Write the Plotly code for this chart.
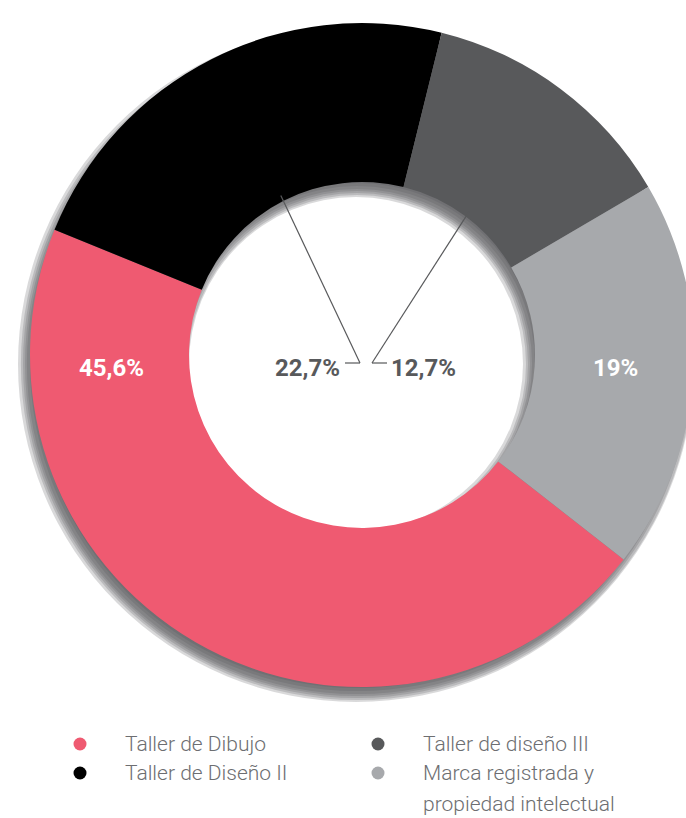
import math
import plotly.graph_objects as go

# ---- data ----
categories = ["Taller de Dibujo", "Taller de Diseño II", "Taller de diseño III",
              "Marca registrada y<br>propiedad intelectual"]
values = [45.6, 22.7, 12.7, 19.0]
value_labels = ["45,6%", "22,7%", "12,7%", "19%"]
colors = ["#EF5A71", "#000000", "#58595B", "#A7A9AC"]

# ---- geometry (pixels) ----
# the figure is a little wider than the window so the donut is cropped at the right
W, H = 694, 818
CX, CY = 362, 355
R = 332
R_IN = 173
ROT = 128


def px(x):
    return x / W


def py(y):
    return 1 - y / H


fig = go.Figure()

# soft drop shadow under the ring (stack of translucent rings = blur)
SDX, SDY = -5, 9
shadow_layers = [-8, -5, -2, 0, 2, 4, 6]
for i, dr in enumerate(shadow_layers):
    r = R + dr
    rin = R_IN - dr
    x0 = px(CX + SDX - r)
    x1 = px(CX + SDX + r)
    if x1 > 1:
        x0, x1 = 1 - 2 * r / W, 1
    fig.add_trace(go.Pie(
        values=[sum(values)], labels=[f"shadow{i}"], hole=rin / r,
        marker=dict(colors=["rgba(80,80,85,0.22)"], line=dict(width=0)),
        textinfo="none", hoverinfo="skip", showlegend=False, sort=False,
        domain=dict(x=[x0, x1], y=[py(CY + SDY + r), py(CY + SDY - r)])))

# main donut
fig.add_trace(go.Pie(
    labels=categories, values=values, hole=R_IN / R, sort=False,
    direction="clockwise", rotation=ROT,
    marker=dict(colors=colors, line=dict(width=0)),
    textinfo="none", hoverinfo="label+percent", showlegend=False,
    domain=dict(x=[px(CX - R), px(CX + R)], y=[py(CY + R), py(CY - R)])))

annotations = []
shapes = []
bold = dict(family="Roboto, Noto Sans, sans-serif", size=24, weight="bold")
R_MID = (R + R_IN) / 2
TY = CY + 13

# labels inside the ring (pink at 9 o'clock, light grey at 3 o'clock)
annotations.append(dict(x=px(CX - R_MID + 2), y=py(TY), xref="paper", yref="paper",
                        xanchor="center", text=value_labels[0], showarrow=False,
                        font=dict(color="white", **bold)))
annotations.append(dict(x=px(CX + R_MID + 1), y=py(TY), xref="paper", yref="paper",
                        xanchor="center", text=value_labels[3], showarrow=False,
                        font=dict(color="white", **bold)))

# leader lines for the two small labels in the hole
total = sum(values)
cum = 0
mids = []
for v in values:
    mids.append(ROT + (cum + v / 2) / total * 360)
    cum += v

LY = CY + 8
for idx, jx, hx, tx, anchor in [(1, CX - 2, CX - 17, CX - 20, "right"),
                                (2, CX + 10, CX + 25, CX + 27, "left")]:
    a = math.radians(mids[idx])
    sx = CX + (R_IN + 6) * math.sin(a)
    sy = CY - (R_IN + 6) * math.cos(a)
    shapes.append(dict(type="line", xref="paper", yref="paper",
                       x0=px(sx), y0=py(sy), x1=px(jx), y1=py(LY),
                       line=dict(color="#58595B", width=1.2)))
    shapes.append(dict(type="line", xref="paper", yref="paper",
                       x0=px(jx), y0=py(LY), x1=px(hx), y1=py(LY),
                       line=dict(color="#58595B", width=1.2)))
    annotations.append(dict(x=px(tx), y=py(TY), xref="paper", yref="paper",
                            xanchor=anchor, text=value_labels[idx], showarrow=False,
                            font=dict(color="#58595B", **bold)))

# legend (two columns)
leg_pos = [(80, 744), (80, 773), (378, 744), (378, 773)]
TEXT_DX = 43
LINE_GAP = 31
for (lx, ly), name, col in zip(leg_pos, categories, colors):
    d = 6.5
    shapes.append(dict(type="circle", xref="paper", yref="paper",
                       x0=px(lx - d), x1=px(lx + d), y0=py(ly + d), y1=py(ly - d),
                       fillcolor=col, line=dict(width=0)))
    for k, line in enumerate(name.split("<br>")):
        annotations.append(dict(x=px(lx + TEXT_DX), y=py(ly + k * LINE_GAP),
                                xref="paper", yref="paper", xanchor="left",
                                yanchor="middle", text=line, showarrow=False,
                                font=dict(family="Roboto, Noto Sans, sans-serif",
                                          size=21, weight=300, color="#6D6E71")))

fig.update_layout(width=W, height=H, margin=dict(l=0, r=0, t=0, b=0),
                  paper_bgcolor="white", plot_bgcolor="white", showlegend=False,
                  annotations=annotations, shapes=shapes)

fig.write_html("out.html", config={"displayModeBar": False},
               post_script="document.body.style.margin='0';"
                           "document.body.style.overflow='hidden';")
